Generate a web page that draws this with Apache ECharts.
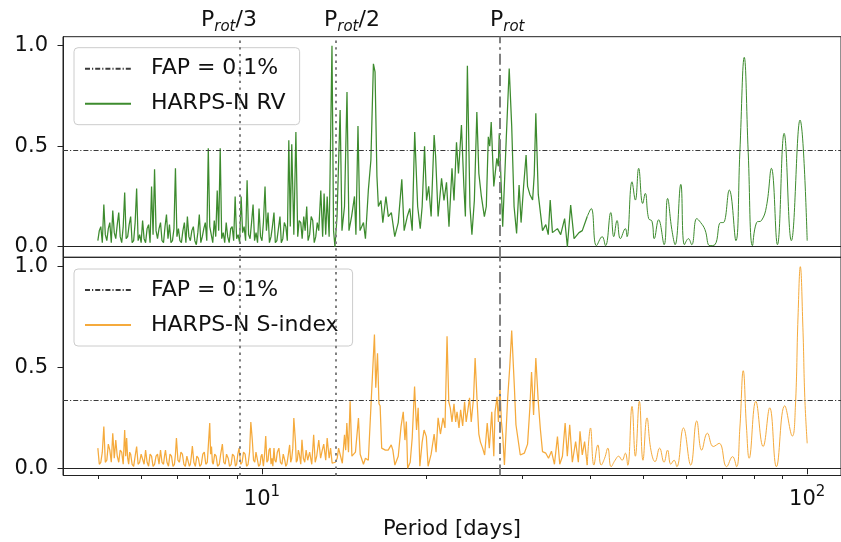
<!DOCTYPE html>
<html>
<head>
<meta charset="utf-8">
<script src="https://cdn.jsdelivr.net/npm/echarts@6/dist/echarts.min.js"></script>
<style>
  html, body { margin: 0; padding: 0; background: #ffffff; }
  #chart { width: 841px; height: 542px; }
</style>
</head>
<body>
<div id="chart"></div>
<script>
// GLS periodograms of HARPS-N radial velocities and S-index: [period (days), normalised power]
const rvPeriodogram = [
  [5.00,0.03],[5.031,0.08],[5.063,0.10],[5.095,0.02],[5.128,0.21],[5.160,0.06],[5.193,0.03],[5.226,0.09],
  [5.259,0.12],[5.292,0.02],[5.325,0.18],[5.359,0.07],[5.393,0.04],[5.427,0.11],[5.461,0.17],[5.495,0.05],
  [5.530,0.02],[5.565,0.10],[5.600,0.27],[5.635,0.04],[5.671,0.05],[5.707,0.11],[5.743,0.15],[5.779,0.02],
  [5.816,0.03],[5.853,0.12],[5.890,0.29],[5.927,0.03],[5.965,0.06],[6.003,0.02],[6.040,0.13],[6.078,0.04],
  [6.117,0.02],[6.156,0.09],[6.195,0.11],[6.234,0.02],[6.273,0.30],[6.313,0.06],[6.353,0.385],[6.393,0.08],
  [6.433,0.04],[6.474,0.09],[6.515,0.12],[6.556,0.03],[6.598,0.02],[6.640,0.10],[6.681,0.16],[6.724,0.04],
  [6.766,0.11],[6.809,0.02],[6.852,0.03],[6.896,0.09],[6.939,0.39],[6.983,0.05],[7.027,0.09],[7.071,0.03],
  [7.116,0.02],[7.161,0.08],[7.206,0.12],[7.252,0.02],[7.298,0.15],[7.344,0.05],[7.390,0.03],[7.437,0.08],
  [7.484,0.10],[7.531,0.03],[7.579,0.01],[7.627,0.07],[7.675,0.16],[7.724,0.02],[7.773,0.05],[7.822,0.09],
  [7.871,0.12],[7.921,0.03],[7.971,0.49],[8.021,0.10],[8.072,0.06],[8.123,0.02],[8.175,0.13],[8.226,0.05],
  [8.278,0.28],[8.330,0.08],[8.383,0.49],[8.436,0.04],[8.490,0.07],[8.544,0.02],[8.598,0.12],[8.652,0.05],
  [8.707,0.02],[8.762,0.09],[8.817,0.10],[8.873,0.03],[8.929,0.25],[8.985,0.04],[9.042,0.06],[9.099,0.02],
  [9.157,0.25],[9.215,0.07],[9.273,0.10],[9.332,0.03],[9.391,0.33],[9.450,0.06],[9.510,0.04],[9.570,0.12],
  [9.631,0.21],[9.692,0.03],[9.753,0.07],[9.815,0.02],[9.877,0.19],[9.939,0.05],[10.00,0.03],[10.06,0.12],
  [10.13,0.30],[10.19,0.08],[10.26,0.17],[10.32,0.02],[10.39,0.05],[10.45,0.10],[10.52,0.17],[10.58,0.02],
  [10.65,0.03],[10.72,0.09],[10.79,0.15],[10.85,0.02],[10.92,0.04],[10.99,0.12],[11.06,0.10],[11.13,0.03],
  [11.20,0.53],[11.27,0.10],[11.34,0.51],[11.44,0.06],[11.54,0.57],[11.63,0.05],[11.70,0.13],[11.78,0.12],
  [11.85,0.04],[11.93,0.15],[12.00,0.08],[12.08,0.20],[12.15,0.03],[12.23,0.06],[12.31,0.15],[12.39,0.13],
  [12.47,0.02],[12.55,0.05],[12.63,0.12],[12.71,0.08],[12.82,0.28],[12.92,0.05],[13.00,0.265],[13.09,0.06],
  [13.17,0.25],[13.28,0.05],[13.44,1.00],[13.53,0.08],[13.61,0.00],[13.73,0.15],[13.91,0.68],[14.02,0.08],
  [14.17,0.20],[14.32,0.77],[14.44,0.08],[14.60,0.15],[14.78,0.25],[14.87,0.06],[15.00,0.60],[15.13,0.08],
  [15.35,0.12],[15.48,0.04],[15.67,0.28],[15.84,0.43],[16.01,0.91],[16.12,0.87],[16.25,0.35],[16.35,0.20],
  [16.53,0.23],[16.66,0.12],[16.88,0.25],[17.05,0.15],[17.27,0.17],[17.52,0.05],[17.78,0.12],[18.05,0.335],
  [18.23,0.08],[18.47,0.15],[18.67,0.19],[18.86,0.08],[19.06,0.57],[19.30,0.20],[19.51,0.09],[19.67,0.20],
  [19.87,0.50],[20.04,0.23],[20.22,0.30],[20.43,0.15],[20.69,0.556],[20.82,0.45],[21.04,0.15],[21.35,0.34],
  [21.57,0.23],[21.80,0.32],[22.03,0.10],[22.31,0.39],[22.50,0.23],[22.74,0.52],[22.93,0.365],[23.22,0.605],
  [23.46,0.30],[23.61,0.15],[23.81,0.90],[24.07,0.20],[24.27,0.06],[24.52,0.23],[24.78,0.67],[24.99,0.365],
  [25.26,0.25],[25.58,0.15],[25.79,0.20],[26.01,0.547],[26.17,0.50],[26.33,0.62],[26.62,0.30],[26.79,0.37],
  [26.96,0.44],[27.13,0.40],[27.24,0.564],[27.47,0.30],[27.64,0.10],[28.05,0.53],[28.41,0.887],[28.71,0.60],
  [29.00,0.20],[29.31,0.066],[29.62,0.307],[29.87,0.12],[30.19,0.30],[30.51,0.456],[30.70,0.30],[31.00,0.26],
  [31.36,0.232],[31.58,0.36],[31.79,0.664],[32.12,0.26],[32.70,0.08],[33.16,0.11],[33.50,0.06],[33.78,0.232],
  [34.10,0.07],[34.83,0.09],[35.31,0.06],[35.90,0.14],[36.32,0.00],[36.83,0.207],[37.36,0.04],[38.15,0.07],
  [38.68,0.08],[39.50,0.15],
  [40.17,0.19],[41.07,0.005],[42.07,0.05],[42.67,0.005],[43.63,0.17],[44.18,0.05],[44.80,0.13],[45.43,0.04],
  [46.40,0.09],[46.73,0.05],[47.72,0.323],[48.40,0.232],[49.08,0.39],[49.92,0.215],[50.47,0.265],[51.19,0.14],
  [51.91,0.127],[52.42,0.04],[53.39,0.134],[54.66,0.01],[55.45,0.24],[56.46,0.085],[57.25,0.01],[58.64,0.31],
  [59.55,0.01],[60.56,0.04],[61.41,0.01],[62.72,0.14],[63.78,0.12],[64.94,0.085],[66.32,0.005],[67.73,0.01],
  [69.38,0.12],[70.17,0.12],[71.96,0.282],[74.00,0.03],[75.25,0.47],[76.66,0.942],[77.95,0.47],[79.37,0.005],
  [80.73,0.12],[82.44,0.13],[84.19,0.20],[85.98,0.39],[88.18,0.01],[90.72,0.564],[93.53,0.03],[97.02,0.63],
  [100.0,0.03]
];

const sIndexPeriodogram = [
  [5.00,0.10],[5.031,0.02],[5.063,0.03],[5.095,0.08],[5.128,0.207],[5.160,0.03],[5.193,0.04],[5.226,0.12],
  [5.259,0.09],[5.292,0.03],[5.325,0.174],[5.359,0.05],[5.393,0.14],[5.427,0.06],[5.461,0.03],[5.495,0.09],
  [5.530,0.08],[5.565,0.02],[5.600,0.19],[5.624,0.06],[5.647,0.15],[5.671,0.05],[5.695,0.02],[5.719,0.08],
  [5.743,0.07],[5.779,0.02],[5.816,0.01],[5.853,0.06],[5.890,0.108],[5.927,0.02],[5.965,0.03],[6.003,0.07],
  [6.040,0.07],[6.078,0.02],[6.117,0.09],[6.156,0.03],[6.195,0.01],[6.234,0.07],[6.273,0.06],[6.313,0.01],
  [6.353,0.02],[6.393,0.06],[6.433,0.07],[6.474,0.02],[6.515,0.09],[6.556,0.03],[6.598,0.02],[6.625,0.06],
  [6.653,0.09],[6.695,0.03],[6.738,0.01],[6.781,0.07],[6.824,0.06],[6.867,0.01],[6.910,0.02],[6.939,0.07],
  [6.968,0.15],[7.012,0.04],[7.057,0.03],[7.101,0.08],[7.146,0.07],[7.191,0.02],[7.236,0.01],[7.282,0.06],
  [7.329,0.06],[7.360,0.01],[7.390,0.02],[7.421,0.06],[7.453,0.11],[7.500,0.03],[7.547,0.01],[7.595,0.06],
  [7.643,0.05],[7.691,0.01],[7.740,0.02],[7.789,0.07],[7.838,0.08],[7.888,0.02],[7.938,0.03],[8.02,0.224],
  [8.05,0.07],[8.08,0.108],[8.11,0.03],[8.14,0.02],[8.19,0.07],[8.24,0.06],[8.29,0.01],[8.35,0.02],
  [8.40,0.07],[8.46,0.12],[8.51,0.03],[8.56,0.02],[8.61,0.07],[8.67,0.05],[8.72,0.01],[8.78,0.02],
  [8.83,0.07],[8.89,0.06],[8.94,0.01],[8.985,0.02],[9.03,0.07],[9.08,0.10],[9.14,0.02],[9.196,0.03],
  [9.25,0.08],[9.312,0.07],[9.37,0.01],[9.43,0.02],[9.49,0.08],[9.54,0.23],[9.60,0.14],[9.65,0.04],
  [9.70,0.03],[9.75,0.08],[9.79,0.08],[9.86,0.01],[9.92,0.02],[9.96,0.06],[10.00,0.07],[10.06,0.01],
  [10.11,0.07],[10.16,0.16],[10.21,0.03],[10.26,0.04],[10.30,0.09],[10.35,0.10],[10.39,0.02],[10.43,0.05],
  [10.47,0.01],[10.52,0.10],[10.56,0.04],[10.61,0.03],[10.67,0.08],[10.74,0.10],[10.81,0.03],[10.88,0.02],
  [10.94,0.07],[11.01,0.04],[11.06,0.01],[11.11,0.02],[11.18,0.07],[11.24,0.116],[11.29,0.03],[11.34,0.05],
  [11.39,0.10],[11.44,0.249],[11.52,0.13],[11.56,0.03],[11.61,0.04],[11.66,0.09],[11.71,0.07],[11.78,0.02],
  [11.84,0.141],[11.91,0.05],[11.98,0.03],[12.05,0.09],[12.13,0.04],[12.23,0.08],[12.34,0.02],[12.44,0.166],
  [12.52,0.03],[12.60,0.06],[12.71,0.14],[12.81,0.05],[12.90,0.09],[12.98,0.12],[13.09,0.04],[13.17,0.15],
  [13.28,0.05],[13.36,0.10],[13.45,0.025],[13.63,0.03],[13.74,0.05],[13.82,0.10],[14.04,0.025],[14.17,0.166],
  [14.24,0.09],[14.31,0.224],[14.41,0.08],[14.51,0.332],[14.62,0.06],[14.84,0.08],[15.03,0.249],[15.14,0.07],
  [15.35,0.02],[15.48,0.05],[15.67,0.04],[15.85,0.316],[16.08,0.663],[16.17,0.40],[16.29,0.57],[16.39,0.32],
  [16.47,0.31],[16.58,0.10],[16.84,0.09],[17.04,0.09],[17.26,0.116],[17.38,0.09],[17.53,0.016],[17.78,0.06],
  [17.99,0.207],[18.16,0.28],[18.29,0.14],[18.40,0.232],[18.50,0.00],[18.70,0.03],[18.86,0.15],[19.05,0.406],
  [19.21,0.19],[19.34,0.30],[19.48,0.01],[19.67,0.13],[19.83,0.19],[20.02,0.157],[20.17,0.01],[20.43,0.07],
  [20.69,0.17],[20.86,0.08],[21.04,0.25],[21.25,0.17],[21.48,0.25],[21.66,0.20],[21.85,0.655],[22.01,0.33],
  [22.15,0.30],[22.31,0.23],[22.50,0.32],[22.66,0.23],[22.79,0.28],[22.98,0.20],[23.14,0.29],[23.34,0.21],
  [23.53,0.33],[23.69,0.23],[23.86,0.29],[24.03,0.35],[24.20,0.23],[24.44,0.35],[24.60,0.547],[24.81,0.33],
  [24.99,0.17],[25.16,0.13],[25.39,0.10],[25.61,0.066],[25.89,0.225],[26.12,0.10],[26.39,0.28],[26.62,0.06],
  [26.76,0.28],[26.99,0.355],[27.14,0.23],[27.32,0.406],[27.49,0.23],[27.64,0.166],[27.84,0.016],[28.23,0.35],
  [28.47,0.50],[28.71,0.683],[29.04,0.40],[29.23,0.216],[29.77,0.066],[30.28,0.075],[30.70,0.12],[31.00,0.30],
  [31.22,0.478],[31.49,0.265],[31.79,0.547],[32.12,0.33],[32.39,0.20],[32.70,0.083],[33.16,0.075],[33.54,0.05],
  [33.96,0.085],[34.39,0.02],[34.83,0.157],[35.17,0.02],[35.57,0.06],[35.98,0.225],[36.31,0.06],[36.68,0.216],
  [37.09,0.03],[37.61,0.133],[38.04,0.03],[38.31,0.183],[38.68,0.066],[39.06,0.133],[39.50,0.016],
  [40.05,0.20],[40.62,0.016],[41.31,0.116],[41.89,0.016],[42.51,0.05],[43.09,0.10],[43.69,0.008],[44.43,0.04],
  [45.10,0.06],[45.76,0.04],[46.40,0.075],[46.87,0.015],[47.72,0.307],[48.40,0.06],[49.23,0.332],[49.98,0.04],
  [50.83,0.25],[51.69,0.09],[52.60,0.033],[53.62,0.10],[54.63,0.03],[55.45,0.09],[56.22,0.02],[57.00,0.04],
  [57.66,0.008],[59.30,0.20],[61.15,0.016],[62.72,0.235],[64.05,0.09],[65.60,0.174],[67.28,0.108],[68.98,0.124],
  [71.15,0.008],[72.97,0.058],[74.21,0.008],[75.25,0.20],[76.33,0.484],[77.40,0.20],[78.27,0.05],[80.49,0.332],
  [83.02,0.108],[85.37,0.30],[87.81,0.008],[90.94,0.31],[93.93,0.16],[95.12,0.30],[96.20,0.75],[97.14,1.00],
  [98.20,0.70],[99.00,0.35],[100.0,0.124]
];

// 0.1% false-alarm-probability levels
const fapRV = 0.476;
const fapSIndex = 0.336;

// stellar rotation period (days) and its first harmonics
const protDays = 27.27;
const rotationMarks = [
  { period: protDays / 3, style: 'dotted' },
  { period: protDays / 2, style: 'dotted' },
  { period: protDays,     style: 'dashdot' }
];

// axis ticks
const yTicks = [0, 0.5, 1.0];
const xMajorTicks = [10, 100];
const xMinorTicks = [5, 6, 7, 8, 9, 20, 30, 40, 50, 60, 70, 80, 90];

const FONT = 'DejaVu Sans';
const GREEN = '#3d8b2e';
const ORANGE = '#f5aa3c';
const X_MIN = 4.3157, X_MAX = 115.35;
const SMOOTH_FROM = 39.5;  // long periods are well sampled: draw them as a smooth curve

function splitAt(points, cut) {
  return [points.filter(p => p[0] <= cut), points.filter(p => p[0] >= cut)];
}
const [rvShort, rvLong] = splitAt(rvPeriodogram, SMOOTH_FROM);
const [siShort, siLong] = splitAt(sIndexPeriodogram, SMOOTH_FROM);

function rotationLines() {
  return {
    silent: true,
    symbol: ['none', 'none'],
    label: { show: false },
    animation: false,
    data: rotationMarks.map(m => ({
      xAxis: m.period,
      lineStyle: {
        color: '#808080',
        width: 2,
        type: m.style === 'dotted' ? [2.4, 4.3] : [11, 4, 2.4, 4]
      }
    }))
  };
}

const FAP_STYLE = { color: '#3a3a3a', width: 1, type: [5, 2, 1.2, 2] };

function fapSeries(level, idx) {
  return {
    type: 'line', name: 'FAP = 0.1%',
    xAxisIndex: idx, yAxisIndex: idx,
    data: [], symbol: 'none',
    lineStyle: FAP_STYLE,
    itemStyle: { color: '#3a3a3a' },
    markLine: {
      silent: true, symbol: ['none', 'none'], label: { show: false }, animation: false,
      data: [{ yAxis: level }],
      lineStyle: FAP_STYLE
    },
    z: 4
  };
}

function powerSeries(name, data, color, idx, smooth, width, withMarks) {
  const s = {
    type: 'line', name: name,
    xAxisIndex: idx, yAxisIndex: idx,
    data: data, symbol: 'none', smooth: smooth,
    lineStyle: { color: color, width: width },
    itemStyle: { color: color },
    z: 2
  };
  if (withMarks) s.markLine = rotationLines();
  return s;
}

function yAxis(idx, min, max) {
  return {
    type: 'value', gridIndex: idx, min: min, max: max,
    splitLine: { show: false },
    axisLine: { show: true, lineStyle: { color: '#222', width: 1 } },
    axisTick: { show: true, customValues: yTicks, length: 5.5, lineStyle: { color: '#222', width: 1 } },
    axisLabel: {
      customValues: yTicks, formatter: v => v.toFixed(1),
      fontFamily: FONT, fontSize: 21, color: '#111', margin: 15
    }
  };
}

const legendBase = {
  orient: 'vertical', left: 74,
  padding: [10, 14, 10, 10],
  itemWidth: 46, itemHeight: 24, itemGap: 13,
  backgroundColor: 'rgba(255,255,255,0.8)',
  borderColor: '#cccccc', borderWidth: 1, borderRadius: 4,
  selectedMode: false,
  itemStyle: { color: 'rgba(0,0,0,0)', borderWidth: 0, opacity: 0 },
  formatter: '{t|{name}}',
  textStyle: {
    fontFamily: FONT, fontSize: 22, color: '#111',
    rich: { t: { fontFamily: FONT, fontSize: 22, lineHeight: 24, padding: [0, 0, 0, 15], color: '#111' } }
  }
};

const rotLabelRich = {
  p: { fontFamily: FONT, fontSize: 22, lineHeight: 26, verticalAlign: 'top', fill: '#111' },
  s: { fontFamily: FONT, fontSize: 15, fontStyle: 'italic', lineHeight: 10, verticalAlign: 'bottom', fill: '#111' }
};

const chart = echarts.init(document.getElementById('chart'), null, { renderer: 'canvas' });

const option = {
  animation: false,
  backgroundColor: '#ffffff',
  grid: [
    { left: 63, top: 36.7, width: 782, height: 220.6, show: true, borderColor: '#222', borderWidth: 1, backgroundColor: 'transparent' },
    { left: 63, top: 257.3, width: 782, height: 218.2, show: true, borderColor: '#222', borderWidth: 1, backgroundColor: 'transparent' }
  ],
  xAxis: [
    {
      type: 'log', logBase: 10, gridIndex: 0, min: X_MIN, max: X_MAX,
      splitLine: { show: false }, minorSplitLine: { show: false },
      axisLine: { show: true, lineStyle: { color: '#222', width: 1 } },
      axisTick: { show: false }, axisLabel: { show: false }
    },
    {
      type: 'log', logBase: 10, gridIndex: 1, min: X_MIN, max: X_MAX,
      splitLine: { show: false }, minorSplitLine: { show: false },
      axisLine: { show: true, lineStyle: { color: '#222', width: 1 } },
      axisTick: { show: true, customValues: xMajorTicks, length: 6, lineStyle: { color: '#222', width: 1 } },
      axisLabel: {
        customValues: xMajorTicks, margin: 9,
        formatter: v => '{b|10}{s|' + Math.round(Math.log10(v)) + '}',
        rich: {
          b: { fontFamily: FONT, fontSize: 21, color: '#111', lineHeight: 26, verticalAlign: 'bottom' },
          s: { fontFamily: FONT, fontSize: 15, color: '#111', lineHeight: 14, verticalAlign: 'top' }
        }
      },
      name: 'Period [days]', nameLocation: 'middle', nameGap: 44,
      nameTextStyle: { fontFamily: FONT, fontSize: 21, color: '#111' }
    },
    {
      type: 'log', logBase: 10, gridIndex: 1, min: X_MIN, max: X_MAX, position: 'bottom',
      splitLine: { show: false },
      axisLine: { show: false },
      axisTick: { show: true, customValues: xMinorTicks, length: 3.5, lineStyle: { color: '#222', width: 1 } },
      axisLabel: { show: false }
    }
  ],
  yAxis: [ yAxis(0, -0.0527, 1.0448), yAxis(1, -0.0357, 1.0466) ],
  legend: [
    Object.assign({}, legendBase, { top: 47.7, data: ['FAP = 0.1%', 'HARPS-N RV'] }),
    Object.assign({}, legendBase, { top: 269, data: ['FAP = 0.1%', 'HARPS-N S-index'] })
  ],
  series: [
    powerSeries('HARPS-N RV', rvShort, GREEN, 0, false, 1.25, true),
    powerSeries('HARPS-N RV', rvLong, GREEN, 0, 0.45, 1, false),
    fapSeries(fapRV, 0),
    powerSeries('HARPS-N S-index', siShort, ORANGE, 1, false, 1.25, true),
    powerSeries('HARPS-N S-index', siLong, ORANGE, 1, 0.45, 1, false),
    fapSeries(fapSIndex, 1)
  ],
  graphic: [
    { type: 'text', left: 201, top: 9, style: { text: '{p|P}{s|rot}{p|/3}', rich: rotLabelRich } },
    { type: 'text', left: 324, top: 9, style: { text: '{p|P}{s|rot}{p|/2}', rich: rotLabelRich } },
    { type: 'text', left: 490, top: 9, style: { text: '{p|P}{s|rot}', rich: rotLabelRich } }
  ]
};

chart.setOption(option);
</script>
</body>
</html>
